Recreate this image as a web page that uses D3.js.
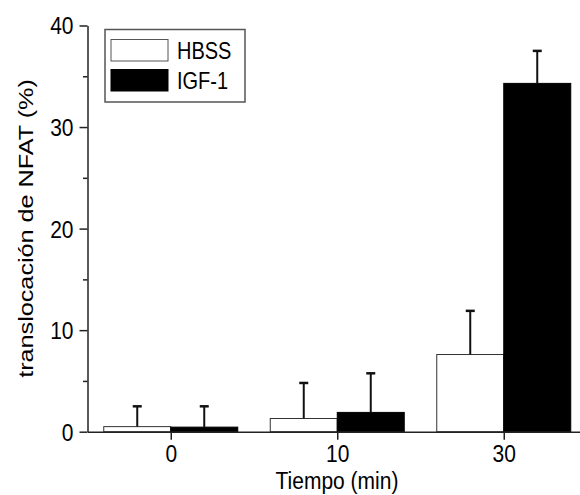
<!DOCTYPE html>
<html>
<head>
<meta charset="utf-8">
<script src="https://cdn.jsdelivr.net/npm/d3@7"></script>
<style>
  body { margin: 0; background: #fff; }
  text { font-family: "Liberation Sans", Arial, sans-serif; fill: #000; }
</style>
</head>
<body>
<div id="chart"></div>
<script>
// datos
const tiempos = ["0", "10", "30"];
const series = ["HBSS", "IGF-1"];
const hbss = [0.5, 1.3, 7.6];
const hbssErr = [2.0, 3.5, 4.3];
const igf = [0.45, 1.9, 34.3];
const igfErr = [2.05, 3.85, 3.2];
const yTicks = [0, 10, 20, 30, 40];
const yMinor = [5, 15, 25, 35];

const W = 580, H = 495;
const svg = d3.select("#chart").append("svg")
    .attr("width", W)
    .attr("height", H);

const y = d3.scaleLinear([0, 40], [431.7, 25.5]);
const x = d3.scalePoint(tiempos, [87.5, 587]).padding(0.5);
const x1 = d3.scaleBand(series, [-67, 67]);

const rows = tiempos.map((t, i) => [
    { t, s: "HBSS", v: hbss[i], e: hbssErr[i] },
    { t, s: "IGF-1", v: igf[i], e: igfErr[i] }
]).flat();

// barras
svg.append("g")
    .selectAll("rect")
    .data(rows)
    .join("rect")
    .attr("x", d => x(d.t) + x1(d.s))
    .attr("width", x1.bandwidth())
    .attr("y", d => y(d.v))
    .attr("height", d => y(0) - y(d.v))
    .attr("fill", d => d.s === "HBSS" ? "#fff" : "#000")
    .attr("stroke", d => d.s === "HBSS" ? "#333" : "#000")
    .attr("stroke-width", 1);

// barras de error (solo hacia arriba)
const err = svg.append("g")
    .attr("stroke", "#111")
    .attr("stroke-width", 2)
    .selectAll("g")
    .data(rows)
    .join("g")
    .attr("transform", d => `translate(${x(d.t) + x1(d.s) + x1.bandwidth() / 2},0)`);
err.append("line")
    .attr("y1", d => y(d.v))
    .attr("y2", d => y(d.v + d.e));
err.append("line")
    .attr("x1", -4.5).attr("x2", 4.5)
    .attr("y1", d => y(d.v + d.e))
    .attr("y2", d => y(d.v + d.e))
    .attr("stroke-width", 2.5);

// eje y
svg.append("g")
    .attr("transform", "translate(87.5,0)")
    .call(d3.axisLeft(y).tickValues(yTicks).tickSize(8).tickPadding(6).tickSizeOuter(0))
    .call(g => g.selectAll("text")
        .attr("font-size", 21).attr("font-family", null)
        .attr("transform", "scale(1,1.12)")
        .attr("y", 0).attr("dy", "0.36em"));
svg.append("g")
    .attr("transform", "translate(87.5,0)")
    .call(d3.axisLeft(y).tickValues(yMinor).tickSize(4.5).tickFormat("").tickSizeOuter(0))
    .call(g => g.select(".domain").remove());

// eje x
svg.append("g")
    .attr("transform", `translate(0,${y(0)})`)
    .call(d3.axisBottom(x).tickSize(8).tickPadding(5).tickSizeOuter(0))
    .call(g => g.selectAll("text")
        .attr("font-size", 21).attr("font-family", null)
        .attr("transform", "scale(1,1.1)"));

svg.selectAll(".domain, .tick line")
    .attr("stroke", "#222")
    .attr("stroke-width", 1.5);

// titulos
svg.append("text")
    .attr("transform", "translate(337,489) scale(1,1.1)")
    .attr("text-anchor", "middle")
    .attr("font-size", 21)
    .text("Tiempo (min)");
svg.append("text")
    .attr("transform", "translate(33,228.5) scale(1,1.2) rotate(-90)")
    .attr("text-anchor", "middle")
    .attr("font-size", 21)
    .text("translocación de NFAT (%)");

// leyenda
const leg = svg.append("g");
leg.append("rect")
    .attr("x", 105).attr("y", 29.5)
    .attr("width", 140).attr("height", 72.5)
    .attr("fill", "#fff")
    .attr("stroke", "#555")
    .attr("stroke-width", 1.5);
const item = leg.selectAll("g")
    .data(series)
    .join("g")
    .attr("transform", (d, i) => `translate(111,${39.5 + i * 30})`);
item.append("rect")
    .attr("width", 57).attr("height", 21.5)
    .attr("fill", d => d === "HBSS" ? "#fff" : "#000")
    .attr("stroke", d => d === "HBSS" ? "#555" : "#000")
    .attr("stroke-width", 1);
item.append("text")
    .attr("transform", "translate(66,19) scale(1,1.17)")
    .attr("font-size", 20)
    .text(d => d);
</script>
</body>
</html>
